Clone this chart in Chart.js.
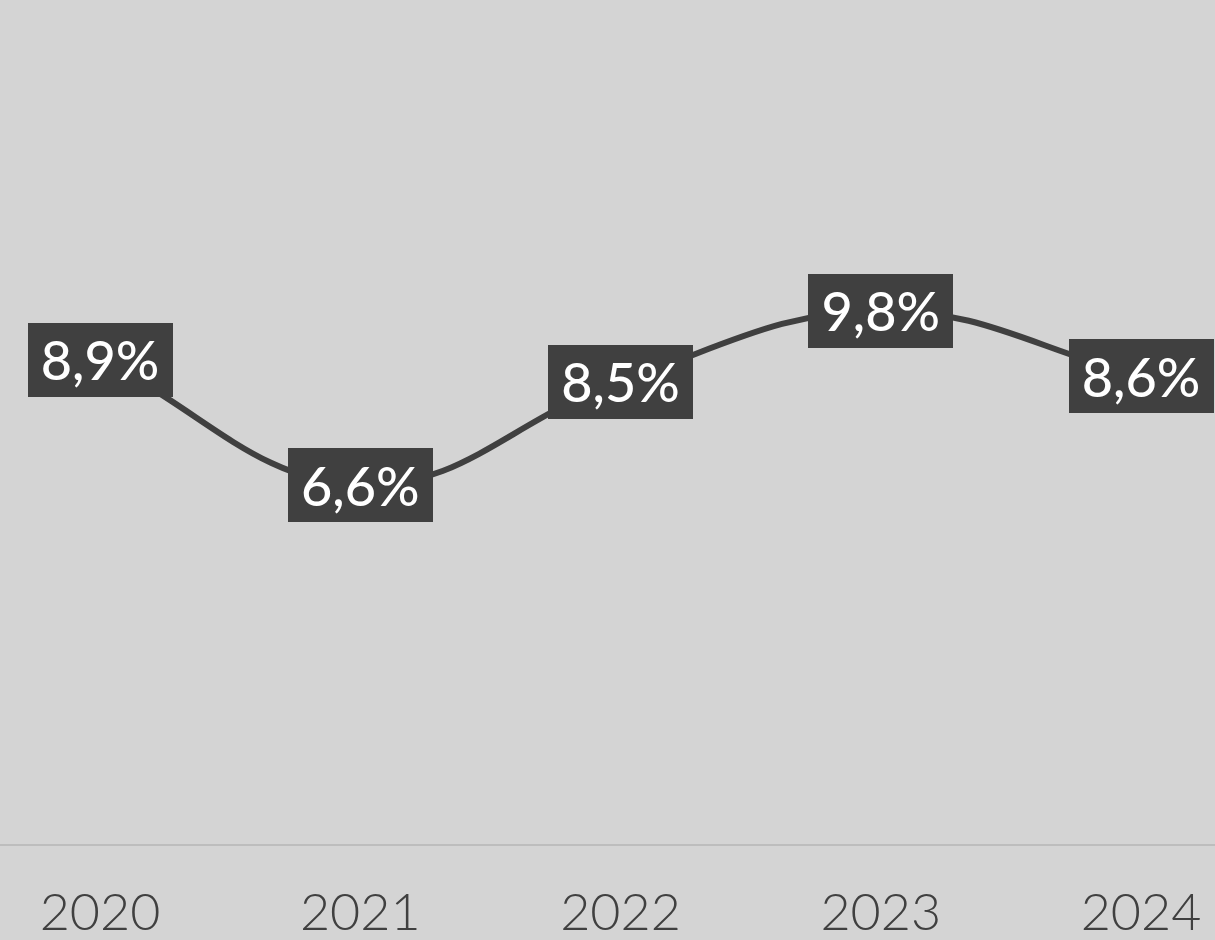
<!DOCTYPE html>
<html>
<head>
<meta charset="utf-8">
<script src="https://cdn.jsdelivr.net/npm/chart.js@4/dist/chart.umd.min.js"></script>
<style>
  html, body { margin: 0; padding: 0; background: #d4d4d4; }
  #wrap { width: 1215px; height: 940px; }
</style>
</head>
<body>
<div id="wrap"><canvas id="c" width="1215" height="940"></canvas></div>
<script>
// Yearly rate, in percent
const years = ['2020', '2021', '2022', '2023', '2024'];
const rates = [8.9, 6.6, 8.5, 9.8, 8.6];
const rateLabels = ['8,9%', '6,6%', '8,5%', '9,8%', '8,6%'];

const INK = '#404040';

// Thin rule across the full width at the foot of the plot
const baseRule = {
  id: 'baseRule',
  beforeDatasetsDraw(chart) {
    const ctx = chart.ctx;
    const y = chart.scales.y.getPixelForValue(0);
    ctx.save();
    ctx.strokeStyle = '#bdbdbd';
    ctx.lineWidth = 2;
    ctx.beginPath();
    ctx.moveTo(0, y);
    ctx.lineTo(chart.width, y);
    ctx.stroke();
    ctx.restore();
  }
};

// Dark value boxes centred on each point
const valueBoxes = {
  id: 'valueBoxes',
  afterDatasetsDraw(chart) {
    const ctx = chart.ctx;
    const meta = chart.getDatasetMeta(0);
    ctx.save();
    ctx.font = '500 54px Lato';
    ctx.textAlign = 'center';
    ctx.textBaseline = 'middle';
    meta.data.forEach((pt, i) => {
      const text = rateLabels[i];
      const w = ctx.measureText(text).width + 26;
      const h = 74;
      ctx.fillStyle = INK;
      ctx.fillRect(Math.round(pt.x - w / 2), Math.round(pt.y - h / 2), Math.round(w), h);
      ctx.fillStyle = '#ffffff';
      ctx.fillText(text, pt.x, pt.y + 3);
    });
    ctx.restore();
  }
};

new Chart(document.getElementById('c'), {
  type: 'line',
  data: {
    labels: years,
    datasets: [{
      data: rates,
      borderColor: INK,
      borderWidth: 6,
      tension: 0.4,
      pointRadius: 0,
      fill: false
    }]
  },
  options: {
    responsive: false,
    animation: false,
    layout: { padding: { left: 100, right: 74, top: 0, bottom: 0 } },
    plugins: { legend: { display: false }, tooltip: { enabled: false } },
    scales: {
      y: { display: false, min: 0, max: 15.5 },
      x: {
        offset: false,
        grid: { display: false, drawTicks: false },
        border: { display: false },
        ticks: {
          color: INK,
          font: { family: 'Lato', size: 52, weight: '300' },
          padding: 37,
          maxRotation: 0,
          autoSkip: false
        },
        afterFit(scale) {
          scale.height = 95;
          scale.paddingLeft = 0;
          scale.paddingRight = 0;
        }
      }
    }
  },
  plugins: [baseRule, valueBoxes]
});
</script>
</body>
</html>
